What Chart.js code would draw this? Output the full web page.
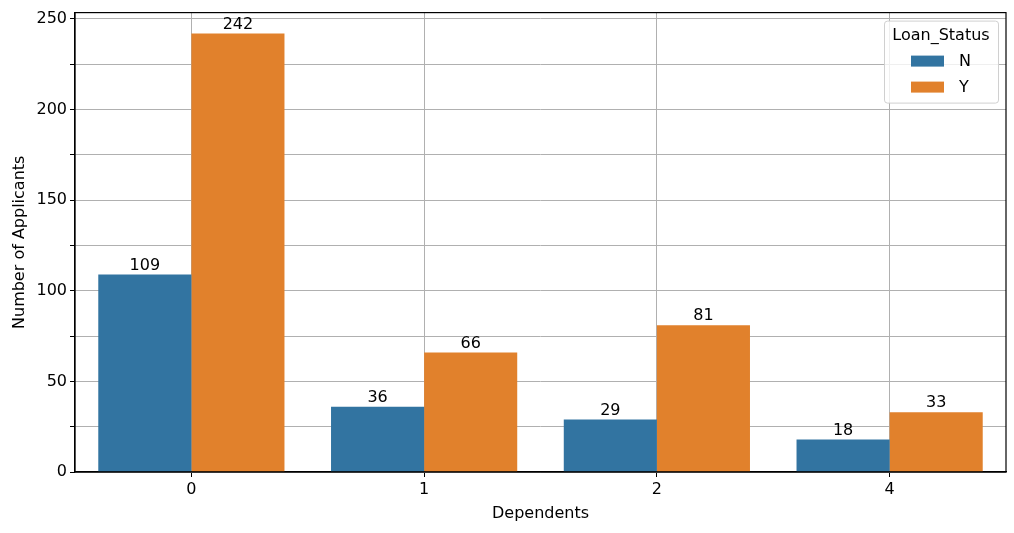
<!DOCTYPE html>
<html>
<head>
<meta charset="utf-8">
<script src="https://cdn.jsdelivr.net/npm/chart.js@4"></script>
<style>
  html, body { margin: 0; padding: 0; background: #fff; }
  #wrap { width: 1014px; height: 533px; }
</style>
</head>
<body>
<div id="wrap"><canvas id="loanChart"></canvas></div>
<script>
const dependents = ['0', '1', '2', '4'];
const loanN = [109, 36, 29, 18];
const loanY = [242, 66, 81, 33];
const yTicks = [0, 50, 100, 150, 200, 250];

const FONT = 'DejaVu Sans';
const FS = 16;

// value labels above bars
const barLabels = {
	id: 'barLabels',
	afterDatasetsDraw(chart) {
		const ctx = chart.ctx;
		ctx.save();
		ctx.font = FS + 'px "' + FONT + '"';
		ctx.fillStyle = '#000';
		ctx.textAlign = 'center';
		ctx.textBaseline = 'bottom';
		chart.data.datasets.forEach((ds, i) => {
			chart.getDatasetMeta(i).data.forEach((bar, j) => {
				ctx.fillText(ds.data[j], bar.x, bar.y - 1);
			});
		});
		ctx.restore();
	}
};

// full frame + matplotlib style legend
const frameAndLegend = {
	id: 'frameAndLegend',
	afterDraw(chart) {
		const ctx = chart.ctx;
		const a = chart.chartArea;
		ctx.save();
		ctx.strokeStyle = '#000';
		ctx.lineWidth = 1.2;
		ctx.strokeRect(a.left, a.top, a.right - a.left, a.bottom - a.top);

		const w = 114, h = 82;
		const x = a.right - 8 - w, y = a.top + 8;
		ctx.fillStyle = 'rgba(255,255,255,0.8)';
		ctx.strokeStyle = '#d0d0d0';
		ctx.lineWidth = 1;
		ctx.beginPath();
		ctx.roundRect(x + 0.5, y + 0.5, w, h, 3);
		ctx.fill();
		ctx.stroke();

		ctx.fillStyle = '#000';
		ctx.font = FS + 'px "' + FONT + '"';
		ctx.textAlign = 'center';
		ctx.textBaseline = 'middle';
		ctx.fillText('Loan_Status', x + w / 2, y + 15);
		ctx.textAlign = 'left';
		chart.data.datasets.forEach((ds, i) => {
			const ry = y + 35 + i * 26;
			ctx.fillStyle = ds.backgroundColor;
			ctx.fillRect(x + 27, ry, 33, 11);
			ctx.fillStyle = '#000';
			ctx.fillText(ds.label, x + 75, ry + 6);
		});
		ctx.restore();
	}
};

new Chart(document.getElementById('loanChart'), {
	type: 'bar',
	data: {
		labels: dependents,
		datasets: [{
			label: 'N',
			data: loanN,
			backgroundColor: '#3274a1',
			categoryPercentage: 0.8,
			barPercentage: 1.0
		}, {
			label: 'Y',
			data: loanY,
			backgroundColor: '#e1812c',
			categoryPercentage: 0.8,
			barPercentage: 1.0
		}]
	},
	options: {
		responsive: true,
		maintainAspectRatio: false,
		animation: false,
		layout: {
			padding: { top: 8, right: 8, left: 0, bottom: 0 }
		},
		plugins: {
			legend: { display: false },
			tooltip: { enabled: false }
		},
		scales: {
			x: {
				offset: true,
				grid: {
					offset: false,
					color: '#b0b0b0',
					lineWidth: 1,
					tickLength: 5,
					tickColor: '#000'
				},
				border: { color: '#000', width: 1.2 },
				ticks: {
					color: '#000',
					font: { family: FONT, size: FS },
					padding: 3,
					maxRotation: 0
				},
				title: {
					display: true,
					text: 'Dependents',
					color: '#000',
					font: { family: FONT, size: FS },
					padding: { top: 0, bottom: 10 }
				},
				afterFit(scale) { scale.height = 61; }
			},
			y: {
				min: 0,
				max: 253.5,
				grid: {
					color: '#b0b0b0',
					lineWidth: 1,
					tickLength: 5,
					tickColor: '#000'
				},
				border: { color: '#000', width: 1.2 },
				ticks: {
					stepSize: 25,
					includeBounds: false,
					color: '#000',
					font: { family: FONT, size: FS },
					padding: 3,
					callback: v => yTicks.includes(v) ? v : ''
				},
				title: {
					display: true,
					text: 'Number of Applicants',
					color: '#000',
					font: { family: FONT, size: FS },
					padding: { top: 10, bottom: 4 }
				},
				afterFit(scale) { scale.width = 75; }
			}
		}
	},
	plugins: [barLabels, frameAndLegend]
});
</script>
</body>
</html>
